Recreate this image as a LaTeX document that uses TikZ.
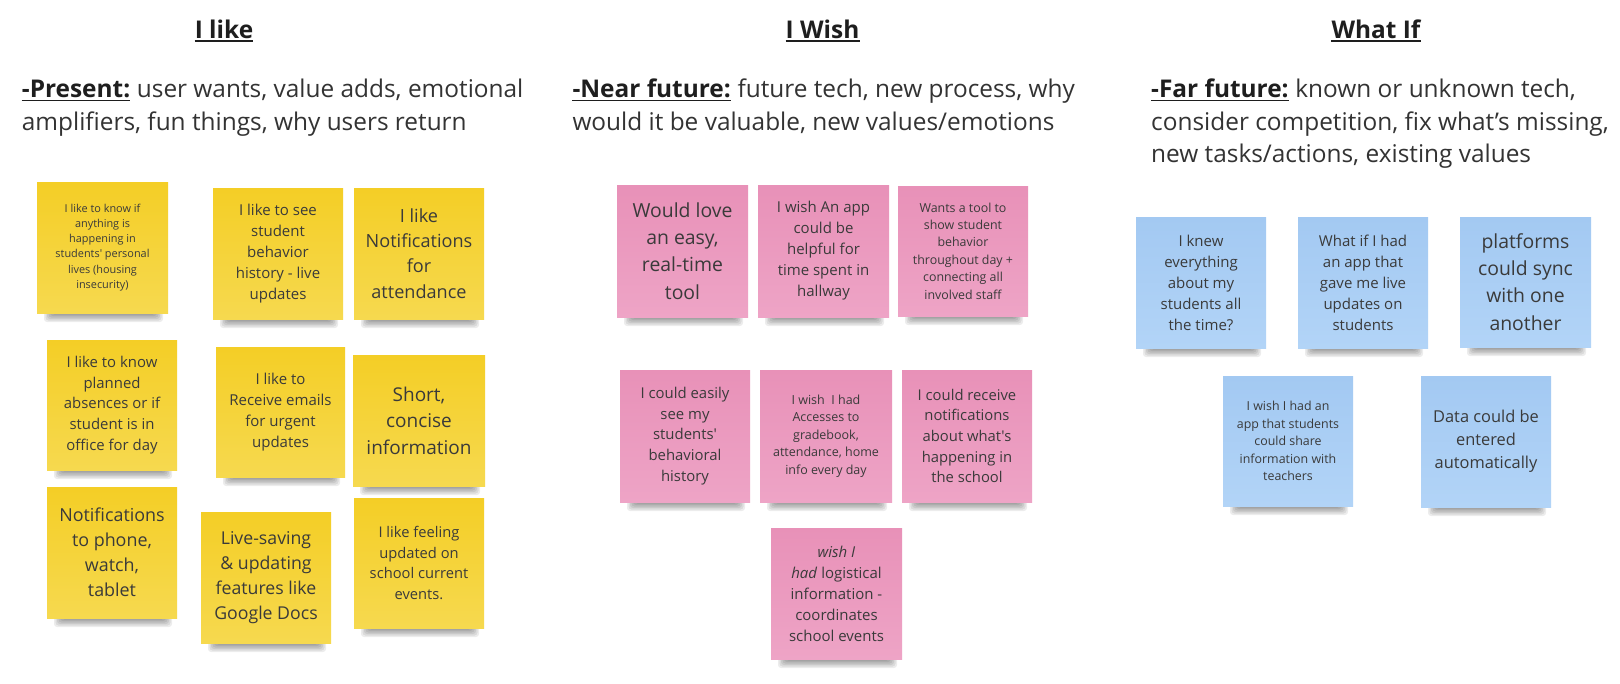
\documentclass[tikz,border=0pt]{standalone}
\usepackage{fontspec}
\setmainfont{Open Sans}[Ligatures=TeXOff]
\definecolor{Ytop}{HTML}{F4CE26}
\definecolor{Ybot}{HTML}{F6D94F}
\definecolor{Ptop}{HTML}{E891B8}
\definecolor{Pbot}{HTML}{EEA4C6}
\definecolor{Btop}{HTML}{A3C9F2}
\definecolor{Bbot}{HTML}{B2D4F7}
\definecolor{txt}{HTML}{3A3A3A}
\definecolor{hd}{HTML}{1E1E1E}
\definecolor{hdb}{HTML}{333333}
\newcommand{\sticky}[8]{%
  \foreach \ii in {0,...,5}{%
    \fill[black,opacity=0.075,rounded corners=3pt] ({#2+7+\ii*1.5},{#5-14}) rectangle ({#4-5-\ii*1.5},{#5+9-\ii*1.5});
  }
  \node[#6, notetext, minimum width={(#4-#2)*1pt}, minimum height={(#5-#3)*1pt}, font={\fontsize{#7}{#7}\linespread{1.4}\selectfont}] (#1) at ({(#2+#4)/2},{(#3+#5)/2}) {#8};
}
\begin{document}
\begin{tikzpicture}[x=1pt,y=-1pt,
  yel/.style={top color=Ytop, bottom color=Ybot},
  pnk/.style={top color=Ptop, bottom color=Pbot},
  blu/.style={top color=Btop, bottom color=Bbot},
  notetext/.style={text=txt, align=center, inner sep=0pt, shape=rectangle},
  head/.style={font=\fontsize{24.4}{30}\selectfont\bfseries, text=hd, inner sep=0pt, anchor=base},
  subb/.style={font=\fontsize{24.4}{30}\selectfont\bfseries, text=hd, inner sep=0pt, anchor=base west},
  sub/.style={font=\fontsize{24.4}{30}\selectfont, text=hdb, inner sep=0pt, anchor=base west},
  uline/.style={draw=hd, line width=1.8pt}]
\useasboundingbox (0,0) rectangle (1620,683);
\fill[white] (0,0) rectangle (1620,683);

% headings
\node[head] (h1) at (224,38) {I like};
\node[head] (h2) at (822.5,38) {I Wish};
\node[head] (h3) at (1376,38) {What If};
\foreach \h in {h1,h2,h3}{\draw[uline] ([yshift=-3pt]\h.base west) -- ([yshift=-3pt]\h.base east);}

\node[subb] (s1k) at (21.7,97.5) {-Present:};
\node[sub] (s1a) at ([xshift=6.3pt]s1k.base east) {user wants, value adds, emotional};
\node[sub] (s1b) at (21.7,130) {amplifiers, fun things, why users return};
\node[subb] (s2k) at (572.3,97.5) {-Near future:};
\node[sub] (s2a) at ([xshift=6.3pt]s2k.base east) {future tech, new process, why};
\node[sub] (s2b) at (572.3,130) {would it be valuable, new values/emotions};
\node[subb] (s3k) at (1151,97.5) {-Far future:};
\node[sub] (s3a) at ([xshift=6.3pt]s3k.base east) {known or unknown tech,};
\node[sub] (s3b) at (1151,130) {consider competition, fix what’s missing,};
\node[sub] (s3c) at (1151,162.5) {new tasks/actions, existing values};
\foreach \h in {s1k,s2k,s3k}{\draw[uline] ([yshift=-3pt]\h.base west) -- ([yshift=-3pt]\h.base east);}

% I like
\sticky{y1}{37}{182}{168}{313}{yel}{10.9}{I like to know if\\anything is\\happening in\\students' personal\\lives (housing\\insecurity)}
\sticky{y2}{213}{188}{343}{319}{yel}{15}{I like to see\\student\\behavior\\history - live\\updates}
\sticky{y3}{354}{188}{484}{319}{yel}{18.1}{I like\\Notifications\\for\\attendance}
\sticky{y4}{47}{340}{177}{470}{yel}{14.9}{I like to know\\planned\\absences or if\\student is in\\office for day}
\sticky{y5}{216}{347}{345}{477}{yel}{15}{I like to\\Receive emails\\for urgent\\updates}
\sticky{y6}{353}{355}{485}{486}{yel}{19}{Short,\\concise\\information}
\sticky{y7}{47}{487}{177}{618}{yel}{17.9}{Notifications\\to phone,\\watch,\\tablet}
\sticky{y8}{201}{512}{331}{643}{yel}{17.7}{Live-saving\\\& updating\\features like\\Google Docs}
\sticky{y9}{354}{498}{484}{628}{yel}{14.7}{I like feeling\\updated on\\school current\\events.}

% I Wish
\sticky{p1}{617}{185}{748}{317}{pnk}{19.4}{Would love\\an easy,\\real-time\\tool}
\sticky{p2}{758}{185}{889}{317}{pnk}{15}{I wish An app\\could be\\helpful for\\time spent in\\hallway}
\sticky{p3}{898}{186}{1028}{316}{pnk}{12.4}{Wants a tool to\\show student\\behavior\\throughout day +\\connecting all\\involved staff}
\sticky{p4}{620}{370}{750}{502}{pnk}{14.9}{I could easily\\see my\\students'\\behavioral\\history}
\sticky{p5}{760}{370}{892}{502}{pnk}{12.5}{I wish~ I had\\Accesses to\\gradebook,\\attendance, home\\info every day}
\sticky{p6}{902}{370}{1032}{502}{pnk}{14.8}{I could receive\\notifications\\about what's\\happening in\\the school}
\sticky{p7}{771}{528}{902}{659}{pnk}{15}{\textit{wish I}\\\textit{had} logistical\\information -\\coordinates\\school events}

% What If
\sticky{b1}{1136}{217}{1266}{348}{blu}{15}{I knew\\everything\\about my\\students all\\the time?}
\sticky{b2}{1298}{217}{1428}{348}{blu}{15}{What if I had\\an app that\\gave me live\\updates on\\students}
\sticky{b3}{1460}{217}{1591}{347}{blu}{19.4}{platforms\\could sync\\with one\\another}
\sticky{b4}{1223}{376}{1353}{506}{blu}{12.4}{I wish I had an\\app that students\\could share\\information with\\teachers}
\sticky{b5}{1421}{376}{1551}{507}{blu}{16.4}{Data could be\\entered\\automatically}
\end{tikzpicture}
\end{document}
